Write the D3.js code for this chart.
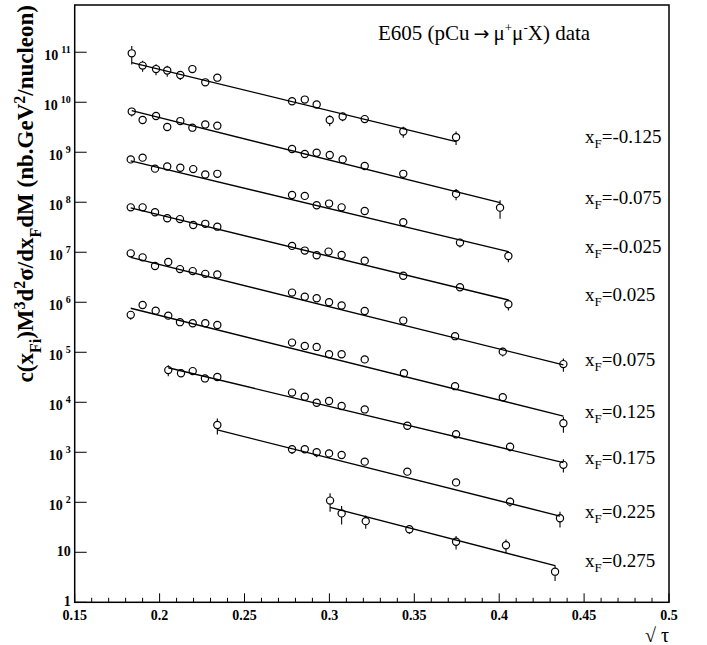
<!DOCTYPE html>
<html>
<head>
<meta charset="utf-8">
<script src="https://cdn.jsdelivr.net/npm/d3@7"></script>
<style>
  body{margin:0;background:#fff;}
  text{font-family:"Liberation Serif","Times New Roman",serif;}
</style>
</head>
<body>
<div id="chart"></div>
<script>
// one series per x_F bin
const xfLabels = ['-0.125','-0.075','-0.025','0.025','0.075','0.125','0.175','0.225','0.275'];

// sqrt(tau) of each point
const sqrtTau = [
  [0.1836,0.1900,0.1979,0.2045,0.2122,0.2193,0.2269,0.2340,0.2780,0.2855,0.2925,0.3002,0.3078,0.3208,0.3435,0.3746],
  [0.1836,0.1900,0.1979,0.2045,0.2122,0.2193,0.2269,0.2340,0.2780,0.2855,0.2925,0.3002,0.3078,0.3208,0.3435,0.3746,0.4005],
  [0.1830,0.1900,0.1973,0.2045,0.2122,0.2198,0.2269,0.2340,0.2780,0.2855,0.2925,0.2998,0.3072,0.3208,0.3435,0.3769,0.4054],
  [0.1830,0.1900,0.1973,0.2045,0.2120,0.2198,0.2269,0.2340,0.2780,0.2855,0.2925,0.2995,0.3072,0.3208,0.3435,0.3769,0.4054],
  [0.1830,0.1900,0.1973,0.2051,0.2120,0.2195,0.2269,0.2340,0.2780,0.2855,0.2925,0.2998,0.3072,0.3208,0.3435,0.3740,0.4021,0.4378],
  [0.1830,0.1900,0.1977,0.2051,0.2120,0.2195,0.2269,0.2340,0.2780,0.2855,0.2925,0.2998,0.3072,0.3208,0.3439,0.3740,0.4021,0.4378],
  [0.2051,0.2126,0.2195,0.2267,0.2340,0.2780,0.2855,0.2925,0.2998,0.3072,0.3208,0.3459,0.3746,0.4064,0.4378],
  [0.2340,0.2780,0.2855,0.2925,0.2998,0.3072,0.3208,0.3459,0.3746,0.4064,0.4358],
  [0.3004,0.3072,0.3214,0.3471,0.3746,0.4040,0.4329]
];

// c(x_Fi) M^3 d2sigma/dxF dM
const crossSec = [
  [9.5e10,5.4e10,4.6e10,4.3e10,3.5e10,4.6e10,2.5e10,3.1e10,1.05e10,1.13e10,9.0e9,4.4e9,5.2e9,4.6e9,2.6e9,2.0e9],
  [6.5e9,4.4e9,5.3e9,3.2e9,4.2e9,3.1e9,3.6e9,3.4e9,1.16e9,9.2e8,9.8e8,8.8e8,7.2e8,5.3e8,3.7e8,1.47e8,7.8e7],
  [7.2e8,7.8e8,4.7e8,5.2e8,4.9e8,4.6e8,3.6e8,3.7e8,1.4e8,1.34e8,8.7e7,9.4e7,7.9e7,6.7e7,4.0e7,1.56e7,8.4e6],
  [7.9e7,7.9e7,6.3e7,4.8e7,4.6e7,3.5e7,3.7e7,3.25e7,1.34e7,1.08e7,8.7e6,1.03e7,8.8e6,6.8e6,3.4e6,2.0e6,9.1e5],
  [9.5e6,7.9e6,5.3e6,6.4e6,4.6e6,4.2e6,3.7e6,3.6e6,1.56e6,1.29e6,1.2e6,1.0e6,8.6e5,6.7e5,4.3e5,2.1e5,1.03e5,5.8e4],
  [5.6e5,8.8e5,6.8e5,5.4e5,4.0e5,3.8e5,3.8e5,3.5e5,1.56e5,1.34e5,1.28e5,9.1e4,9.1e4,7.2e4,3.8e4,2.1e4,1.26e4,3.8e3],
  [4.4e4,3.8e4,4.2e4,3.0e4,3.2e4,1.56e4,1.29e4,9.8e3,1.06e4,8.4e3,7.2e3,3.4e3,2.3e3,1.29e3,5.6e2],
  [3.5e3,1.15e3,1.15e3,1.0e3,9.5e2,8.8e2,6.5e2,4.1e2,2.5e2,1.03e2,48],
  [108,60,42,29,16.3,13.8,4.1]
];

// relative errors
const relErr = [
  [0.4,0.25,0.25,0.25,0.2,0.1,0.1,0.1,0.1,0.1,0.1,0.25,0.2,0.15,0.25,0.3],
  [0.2,0.1,0.1,0.1,0.1,0.1,0.1,0.1,0.1,0.1,0.1,0.1,0.15,0.1,0.1,0.25,0.4],
  [0.15,0.1,0.1,0.1,0.1,0.1,0.1,0.1,0.1,0.1,0.1,0.1,0.15,0.1,0.1,0.2,0.25],
  [0.1,0.1,0.1,0.1,0.1,0.1,0.1,0.1,0.1,0.1,0.1,0.1,0.1,0.1,0.1,0.15,0.25],
  [0.1,0.1,0.1,0.1,0.1,0.1,0.1,0.1,0.1,0.1,0.1,0.1,0.1,0.1,0.1,0.15,0.2,0.3],
  [0.2,0.15,0.1,0.1,0.1,0.1,0.1,0.1,0.1,0.1,0.1,0.1,0.1,0.1,0.1,0.1,0.15,0.35],
  [0.25,0.1,0.1,0.1,0.1,0.1,0.1,0.1,0.1,0.1,0.1,0.1,0.15,0.2,0.3],
  [0.35,0.2,0.1,0.2,0.2,0.1,0.1,0.1,0.15,0.2,0.35],
  [0.4,0.4,0.3,0.2,0.3,0.3,0.35]
];

// fit line, value at first and last point
const fitStart = [6.2e10,6.8e9,6.7e8,7.7e7,7.9e6,7.6e5,4.9e4,2.8e3,79];
const fitEnd = [1.63e9,9.8e7,1.03e7,1.11e6,5.6e4,5.3e3,6.2e2,53,5.4];

const xTicks = [0.15,0.2,0.25,0.3,0.35,0.4,0.45,0.5];
const yDecades = [0,1,2,3,4,5,6,7,8,9,10,11];


class XsecChart{
  constructor(opts){
    this.conEl = opts.conEl;
    this.draw();
  }
  draw(){
    this.margin = {top:5, right:38, bottom:42.7, left:74.7};
    this.width = 707;
    this.height = 645;
    this.w = this.width - this.margin.left - this.margin.right;
    this.h = this.height - this.margin.top - this.margin.bottom;

    this.svg = d3.select(this.conEl).append('svg')
                 .attr('width', this.width)
                 .attr('height', this.height);

    this.plot = this.svg.append('g')
                    .attr('transform', 'translate(' + this.margin.left + ',' + this.margin.top + ')');

    this.createScales();
    this.createAxis();
    this.addFits();
    this.addPoints();
    this.addLabels();
  }
  createScales(){
    this.xScale = d3.scaleLinear().domain([0.15, 0.5]).range([0, this.w]);
    this.yScale = d3.scaleLog().domain([1, 8.8e11]).range([this.h, 0]);
  }
  createAxis(){
    const g = this.plot.append('g').attr('class','axes');

    // x ticks, pointing up
    const xMinor = d3.range(15, 51).map(d => d/100);
    g.selectAll('.xtick').data(xMinor).enter().append('line')
     .attr('x1', d => this.xScale(d)).attr('x2', d => this.xScale(d))
     .attr('y1', this.h)
     .attr('y2', d => this.h - (Math.round(d*100) % 5 === 0 ? 9 : 4.5))
     .attr('stroke','#000').attr('stroke-width',1);

    g.selectAll('.xlab').data(xTicks).enter().append('text')
     .attr('x', d => this.xScale(d)).attr('y', this.h + 18)
     .attr('text-anchor','middle')
     .style('font-size','14px').style('font-weight','bold')
     .text(d => String(d));

    // y ticks, pointing right
    const yt = this.yScale.ticks();
    g.selectAll('.ytick').data(yt).enter().append('line')
     .attr('x1', 0)
     .attr('x2', d => Math.abs(Math.log10(d) - Math.round(Math.log10(d))) < 1e-6 ? 12 : 7)
     .attr('y1', d => this.yScale(d)).attr('y2', d => this.yScale(d))
     .attr('stroke','#000').attr('stroke-width',1);

    const ylab = g.selectAll('.ylab').data(yDecades).enter().append('text')
     .attr('x', -4)
     .attr('text-anchor','end')
     .style('font-size','14px').style('font-weight','bold');
    ylab.filter(d => d < 2)
        .attr('y', d => this.yScale(Math.pow(10,d)) + 4)
        .text(d => d === 0 ? '1' : '10');
    const big = ylab.filter(d => d >= 2)
        .attr('y', d => this.yScale(Math.pow(10,d)) + 8);
    big.append('tspan').text('10');
    big.append('tspan').attr('dx',3).attr('dy',-7)
       .style('font-size','10px').text(d => d);

    // frame
    this.plot.append('rect')
        .attr('width', this.w).attr('height', this.h)
        .attr('fill','none').attr('stroke','#000').attr('stroke-width',1.5);
  }
  addFits(){
    const fits = this.plot.append('g').attr('class','fits');
    fits.selectAll('line').data(xfLabels).enter().append('line')
        .attr('x1', (d,i) => this.xScale(sqrtTau[i][0]))
        .attr('x2', (d,i) => this.xScale(sqrtTau[i][sqrtTau[i].length-1]))
        .attr('y1', (d,i) => this.yScale(fitStart[i]))
        .attr('y2', (d,i) => this.yScale(fitEnd[i]))
        .attr('stroke','#000').attr('stroke-width',1.4);
  }
  addPoints(){
    const r = 3.6;
    const pts = [];
    sqrtTau.forEach((s,i) => s.forEach((x,j) => {
      pts.push({x:x, y:crossSec[i][j], e:relErr[i][j]});
    }));

    const g = this.plot.append('g').attr('class','points');
    const p = g.selectAll('g').data(pts).enter().append('g')
               .attr('transform', d => 'translate(' + this.xScale(d.x) + ',' + this.yScale(d.y) + ')');

    // error bar outside the marker
    p.append('line')
     .attr('y1', d => Math.min(-r, this.yScale(d.y*(1+d.e)) - this.yScale(d.y)))
     .attr('y2', -r)
     .attr('stroke','#000').attr('stroke-width',1.1);
    p.append('line')
     .attr('y1', r)
     .attr('y2', d => Math.max(r, this.yScale(d.y*(1-d.e)) - this.yScale(d.y)))
     .attr('stroke','#000').attr('stroke-width',1.1);

    p.append('circle').attr('r', r)
     .attr('fill','none').attr('stroke','#000').attr('stroke-width',1.2);
  }
  addLabels(){
    // x_F labels next to the end of each fit
    const lab = this.plot.append('g').attr('class','xf-labels')
      .selectAll('text').data(xfLabels).enter().append('text')
      .attr('x', this.xScale(0.45) + 1)
      .attr('y', (d,i) => this.yScale(fitEnd[i]) + 1.5)
      .style('font-size','19px');
    lab.append('tspan').text('x');
    lab.append('tspan').attr('dy',5).style('font-size','13px').text('F');
    lab.append('tspan').attr('dy',-5).text(d => '=' + d);

    // title
    const t = this.svg.append('text')
       .attr('x', 378).attr('y', 40)
       .style('font-size','21px');
    t.append('tspan').text('E605 (pCu');
    t.append('tspan').attr('dx',4).style('font-family','"DejaVu Sans"').style('font-size','19px').text('\u2192');
    t.append('tspan').attr('dx',4).text('\u03bc');
    t.append('tspan').attr('dy',-8).style('font-size','13px').text('+');
    t.append('tspan').attr('dy',8).text('\u03bc');
    t.append('tspan').attr('dy',-8).style('font-size','13px').text('-');
    t.append('tspan').attr('dy',8).text('X) data');

    // x title
    this.svg.append('text')
       .attr('x', this.margin.left + this.w).attr('y', 642)
       .attr('text-anchor','end')
       .style('font-size','20px')
       .text('\u221a \u03c4');

    // y title
    const yt = this.svg.append('text')
       .attr('transform','translate(33,5) rotate(-90)')
       .attr('text-anchor','end')
       .style('font-size','23px').style('font-weight','bold');
    const parts = [
      ['c(x',0],['Fi',1],[')M',0],['3',-1],['d',0],['2',-1],['\u03c3/dx',0],['F',1],
      ['dM (nb.GeV',0],['2',-1],['/nucleon)',0]
    ];
    let prev = 0;
    parts.forEach(pt => {
      const shift = pt[1]*8 - prev;
      prev = pt[1]*8;
      yt.append('tspan').attr('dy', shift)
        .style('font-size', pt[1] === 0 ? '23px' : '16px')
        .text(pt[0]);
    });
  }
}

new XsecChart({conEl: document.getElementById('chart')});
</script>
</body>
</html>
